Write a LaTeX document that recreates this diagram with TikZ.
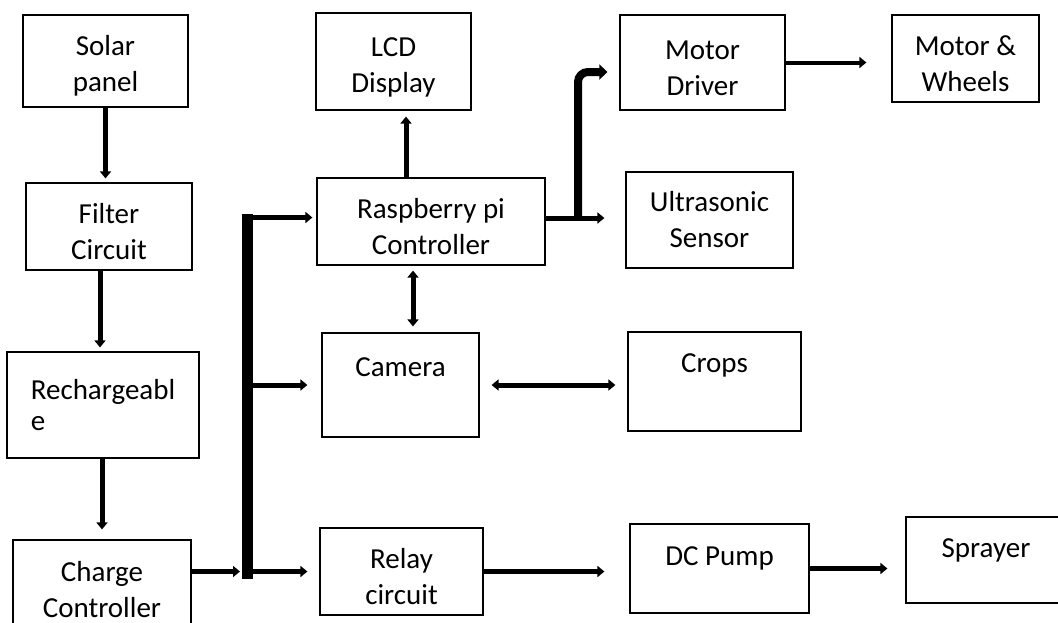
\documentclass[tikz,border=0pt]{standalone}
\usepackage{fontspec}
\setmainfont{Carlito}
\usetikzlibrary{arrows.meta}

\newcommand{\lowered}{\rule{0pt}{30pt}}

\tikzset{
  block/.style={draw, line width=1.2pt, align=center, font=\fontsize{29}{36}\selectfont},
  arr/.style={line width=5pt, -{Triangle[length=7pt,width=11pt]}, shorten >=4pt},
  darr/.style={line width=5pt, {Triangle[length=7pt,width=11pt]}-{Triangle[length=7pt,width=11pt]}, shorten <=5pt, shorten >=6pt},
}

\begin{document}
\begin{tikzpicture}[x=1pt, y=-1pt]
  \useasboundingbox (0,0) rectangle (1058,622);

  % power chain on the left
  \node[block, minimum width=165pt, minimum height=92pt] (solar-panel) at (105.5,61) {\lowered Solar\\panel};
  \node[block, minimum width=166pt, minimum height=87pt] (filter-circuit) at (109,226.5) {\lowered Filter\\Circuit};
  \node[block, minimum width=192pt, minimum height=106pt, align=left, font=\fontsize{29}{31}\selectfont] (rechargeable) at (103,405) {Rechargeabl\\e};
  \node[block, minimum width=178pt, minimum height=100pt] (charge-controller) at (102,590) {Charge\\Controller};

  % controller and peripherals
  \node[block, minimum width=155pt, minimum height=97pt] (lcd-display) at (393.5,61.5) {\lowered LCD\\Display};
  \node[block, minimum width=228pt, minimum height=87pt] (raspberry-pi) at (431,221.5) {\lowered Raspberry pi\\Controller};
  \node[block, minimum width=157pt, minimum height=104pt] (camera) at (400.5,385) {Camera\\~};
  \node[block, minimum width=163pt, minimum height=87pt] (relay-circuit) at (401.5,571.5) {\lowered Relay\\circuit};

  \node[block, minimum width=165pt, minimum height=95pt] (motor-driver) at (702.5,62.5) {\lowered Motor\\Driver};
  \node[block, minimum width=147pt, minimum height=87pt] (motor-wheels) at (965.5,58.5) {\lowered Motor \&\\Wheels};
  \node[block, minimum width=167pt, minimum height=96pt] (ultrasonic-sensor) at (709.5,220) {Ultrasonic\\Sensor};
  \node[block, minimum width=173pt, minimum height=99pt] (crops) at (714.5,381.5) {Crops\\~};
  \node[block, minimum width=179pt, minimum height=89pt] (dc-pump) at (719.5,568.5) {\lowered DC Pump\\~};
  \node[block, minimum width=160pt, minimum height=86pt] (sprayer) at (986,560) {\lowered Sprayer\\~};

  % bus
  \coordinate (bus-top) at (247.5,214);
  \coordinate (bus-bottom) at (247.5,579);
  \coordinate (bus-pi) at (242,217.5);
  \coordinate (pi-split) at (578,218);
  \draw[line width=11pt] (bus-top) -- (bus-bottom);

  \draw[arr] (solar-panel) -- (solar-panel |- filter-circuit.north);
  \draw[arr] ([xshift=-9pt]filter-circuit.south) -- ([xshift=-9pt]filter-circuit.south |- rechargeable.north);
  \draw[arr, shorten >=10pt] (rechargeable.south -| charge-controller) -- (charge-controller.north);
  \draw[arr, shorten >=7.5pt] (charge-controller.east |- relay-circuit) -- (bus-bottom |- relay-circuit);

  \draw[arr] (bus-pi) -- (bus-pi -| raspberry-pi.west);
  \draw[arr, shorten >=14pt] (bus-top |- camera) -- (camera.west);
  \draw[arr, shorten >=12pt] (bus-top |- relay-circuit) -- (relay-circuit.west);

  \draw[arr, shorten >=6pt] ([xshift=-25pt]raspberry-pi.north) -- ([xshift=-25pt]raspberry-pi.north |- lcd-display.south);
  \draw[darr] ([xshift=-18pt]raspberry-pi.south) -- ([xshift=-18pt]raspberry-pi.south |- camera.north);
  \draw[arr, shorten >=21pt] (raspberry-pi.east |- pi-split) -- (pi-split -| ultrasonic-sensor.west);
  \draw[line width=8pt, rounded corners=10pt, -{Triangle[length=8pt,width=15pt]}, shorten >=12pt] (pi-split) |- ([yshift=-9.5pt]motor-driver.west);

  \draw[darr, shorten <=12pt, shorten >=12pt] (camera.east) -- (camera.east -| crops.west);
  \draw[arr, line width=4pt, shorten >=25pt] (motor-driver.east) -- (motor-driver.east -| motor-wheels.west);
  \draw[arr, shorten >=25pt] (relay-circuit.east) -- (relay-circuit.east -| dc-pump.west);
  \draw[arr, shorten >=18pt] (dc-pump.east) -- (dc-pump.east -| sprayer.west);
\end{tikzpicture}
\end{document}
